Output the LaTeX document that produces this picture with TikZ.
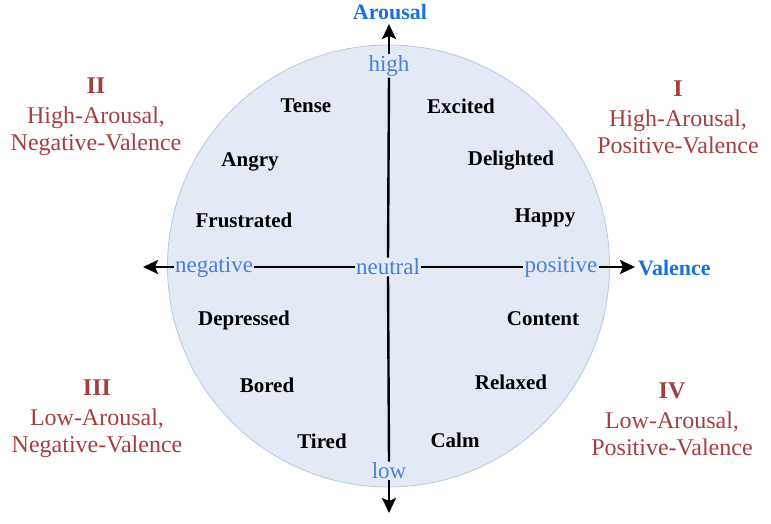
\documentclass[tikz,border=0pt]{standalone}
\usepackage{fontspec}
\setmainfont{Liberation Serif}
\usetikzlibrary{arrows.meta}
\definecolor{circfill}{HTML}{E4EAF5}
\definecolor{circline}{HTML}{B7C8E2}
\definecolor{axlab}{HTML}{4A80D6}
\definecolor{axtitle}{HTML}{1872D8}
\definecolor{quadred}{HTML}{A3403D}
\tikzset{
  emo/.style={font=\fontsize{21}{24}\selectfont\bfseries, text=black, inner sep=0pt},
  axl/.style={font=\fontsize{23}{24}\selectfont, text=axlab, inner sep=1pt},
  axt/.style={font=\fontsize{22}{24}\selectfont\bfseries, text=axtitle, inner sep=1pt},
  quad/.style={font=\fontsize{24}{27}\selectfont, text=quadred, align=center, inner sep=0pt},
  axis/.style={line width=2.4pt, black},
  arr/.style={axis, -{Stealth[length=15pt,width=14pt,inset=3pt]}}
}
\begin{document}
\begin{tikzpicture}[x=1pt,y=-1pt]
\useasboundingbox (0,0) rectangle (771,524);
\fill[circfill, draw=circline, line width=0.8pt] (388.5,266) circle (221);
% axis labels
\node[axl] (high) at (389,66) {high};
\node[axl] (low) at (389,471) {low};
\node[axl] (negative) at (214,267) {negative};
\node[axl] (neutral) at (388,267) {neutral};
\node[axl] (positive) at (561,267) {positive};
\node[axt, anchor=west] (valence) at (637,268) {Valence};
\node[axt] (arousal) at (390,12) {Arousal};
\coordinate (ltip) at (143,267);
\coordinate (rtip) at (635,267);
\coordinate (ttip) at (389,24);
\coordinate (btip) at (389,513);
% axes
\draw[arr] (negative.west) -- (ltip);
\draw[axis] (negative.east) -- (neutral.west);
\draw[axis] (neutral.east) -- (positive.west);
\draw[arr] (positive.east) -- (rtip);
\draw[arr] (high.north) -- (ttip);
\draw[axis] (high.south) -- (neutral.north);
\draw[axis] (neutral.south) -- (low.north);
\draw[arr] (low.south) -- (btip);
% emotions
\node[emo] (tense) at (306,106) {Tense};
\node[emo] (excited) at (461,106) {Excited};
\node[emo] (angry) at (250,162) {Angry};
\node[emo] (delighted) at (511,161) {Delighted};
\node[emo] (frustrated) at (244,220) {Frustrated};
\node[emo] (happy) at (545,218) {Happy};
\node[emo] (depressed) at (244,320) {Depressed};
\node[emo] (content) at (543,319) {Content};
\node[emo] (bored) at (267,385) {Bored};
\node[emo] (relaxed) at (511,382) {Relaxed};
\node[emo] (tired) at (322,441) {Tired};
\node[emo] (calm) at (455,440) {Calm};
% quadrants
\node[quad] (q2) at (96,117) {\textbf{II}\\[3pt] High-Arousal,\\ Negative-Valence};
\node[quad] (q1) at (678,117) {\textbf{I}\\[3pt] High-Arousal,\\ Positive-Valence};
\node[quad] (q3) at (97,419) {\textbf{III}\\[3pt] Low-Arousal,\\ Negative-Valence};
\node[quad] (q4) at (672,419) {\textbf{IV}\\[3pt] Low-Arousal,\\ Positive-Valence};
\end{tikzpicture}
\end{document}
